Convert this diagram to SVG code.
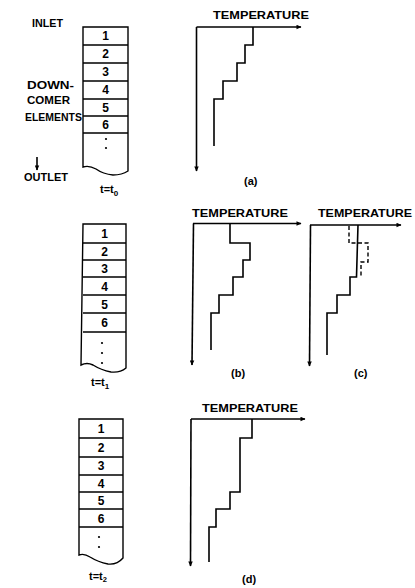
<svg xmlns="http://www.w3.org/2000/svg" width="415" height="588" viewBox="0 0 415 588">
<defs>
<style>
.t{font-family:"Liberation Sans",Arial,sans-serif;font-weight:bold;font-size:11px;fill:#000}
.n{font-family:"Liberation Sans",Arial,sans-serif;font-weight:bold;font-size:12px;fill:#000;text-anchor:middle}
.ln{fill:none;stroke:#000;stroke-width:1.6}
.bx{fill:none;stroke:#000;stroke-width:1.4}
.dash{fill:none;stroke:#000;stroke-width:1.4;stroke-dasharray:4,2.5}
</style>
<marker id="ah" viewBox="0 0 10 10" refX="9" refY="5" markerWidth="8" markerHeight="5" orient="auto" markerUnits="userSpaceOnUse">
<path d="M0,0.5 L10,5 L0,9.5 z" fill="#000"/>
</marker>
</defs>
<rect width="415" height="588" fill="#fff"/>

<g id="labels-a">
<text class="t" x="32" y="27" textLength="31" lengthAdjust="spacingAndGlyphs">INLET</text>
<text class="t" x="27" y="89" textLength="47" lengthAdjust="spacingAndGlyphs">DOWN-</text>
<text class="t" x="27" y="104" textLength="43" lengthAdjust="spacingAndGlyphs">COMER</text>
<text class="t" x="25" y="121" textLength="57" lengthAdjust="spacingAndGlyphs">ELEMENTS</text>
<line class="ln" x1="37" y1="157" x2="37" y2="170" marker-end="url(#ah)"/>
<text class="t" x="24" y="181" textLength="44" lengthAdjust="spacingAndGlyphs">OUTLET</text>
</g>

<g id="column-t0">
<path class="bx" d="M83,27 H128 V171 Q122,175 113,175 Q103,174 96,169 Q89,165 83,167 Z"/>
<path class="bx" d="M83,45 H128 M83,63 H128 M83,81 H128 M83,99 H128 M83,116 H128 M83,133 H128"/>
<text class="n" x="105.5" y="40">1</text>
<text class="n" x="105.5" y="58">2</text>
<text class="n" x="105.5" y="76">3</text>
<text class="n" x="105.5" y="94">4</text>
<text class="n" x="105.5" y="112">5</text>
<text class="n" x="105.5" y="129">6</text>
<circle cx="106" cy="139" r="1.1"/>
<circle cx="106" cy="148" r="1.1"/>
<text class="t" x="100" y="193">t=t<tspan font-size="8" dy="2.5">0</tspan></text>
</g>

<g id="column-t1">
<path class="bx" d="M83,224 H126 V368 Q120,373 111,372 Q101,370 93,365 Q87,362 81,365 Z"/>
<path class="bx" d="M83,243 H126 M83,260 H126 M83,277 H126 M83,295 H126 M83,313 H126 M83,332 H126"/>
<text class="n" x="104.5" y="238">1</text>
<text class="n" x="104.5" y="256">2</text>
<text class="n" x="104.5" y="273">3</text>
<text class="n" x="104.5" y="290.5">4</text>
<text class="n" x="104.5" y="308.5">5</text>
<text class="n" x="104.5" y="327">6</text>
<circle cx="102" cy="343" r="1.1"/>
<circle cx="102" cy="353" r="1.1"/>
<circle cx="102" cy="363" r="1.1"/>
<text class="t" x="91" y="386">t=t<tspan font-size="8" dy="2.5">1</tspan></text>
</g>

<g id="column-t2">
<path class="bx" d="M79,419 H123 V558 Q117,565 108,564 Q98,562 90,557 Q84,553 79,555 Z"/>
<path class="bx" d="M79,438 H123 M79,457 H123 M79,475 H123 M79,492 H123 M79,509 H123 M79,527 H123"/>
<text class="n" x="101" y="433">1</text>
<text class="n" x="101" y="452">2</text>
<text class="n" x="101" y="470">3</text>
<text class="n" x="101" y="488">4</text>
<text class="n" x="101" y="505">5</text>
<text class="n" x="101" y="522.5">6</text>
<circle cx="99" cy="537" r="1.1"/>
<circle cx="99" cy="547" r="1.1"/>
<text class="t" x="89" y="580">t=t<tspan font-size="7.5" dy="2">2</tspan></text>
</g>

<g id="connectors">
<line class="ln" x1="196.5" y1="27" x2="301" y2="27" marker-end="url(#ah)"/>
<line class="ln" x1="196.5" y1="27" x2="196.5" y2="171" marker-end="url(#ah)"/>
<line class="ln" x1="193" y1="223.5" x2="301" y2="223.5" marker-end="url(#ah)"/>
<line class="ln" x1="193.5" y1="223.5" x2="192" y2="365" marker-end="url(#ah)"/>
<line class="ln" x1="310" y1="225" x2="401" y2="225" marker-end="url(#ah)"/>
<line class="ln" x1="310.5" y1="225" x2="309.5" y2="366" marker-end="url(#ah)"/>
<line class="ln" x1="191" y1="419" x2="305" y2="419" marker-end="url(#ah)"/>
<line class="ln" x1="191" y1="419" x2="190.5" y2="566" marker-end="url(#ah)"/>
</g>

<g id="panel-a">
<text class="t" x="213" y="19" textLength="96" lengthAdjust="spacingAndGlyphs">TEMPERATURE</text>
<path class="ln" d="M253,27 V45 H245 V63 H237 V81 H223 V99 H214 V146"/>
<text class="t" x="244" y="185">(a)</text>
</g>

<g id="panel-b">
<text class="t" x="192" y="217" textLength="96" lengthAdjust="spacingAndGlyphs">TEMPERATURE</text>
<path class="ln" d="M230,223.5 V243 H250 V260 H243 V277 H233 V295 H219 V313 H211 V350"/>
<text class="t" x="231" y="377">(b)</text>
</g>

<g id="panel-c">
<text class="t" x="318" y="217" textLength="94" lengthAdjust="spacingAndGlyphs">TEMPERATURE</text>
<path class="ln" d="M358,225 L356.5,277 H350 V295 H337 V313 H327 V355"/>
<path class="dash" d="M349,226 V243 H368 V262 H361 V276"/>
<text class="t" x="354" y="377">(c)</text>
</g>

<g id="panel-d">
<text class="t" x="202" y="412" textLength="96" lengthAdjust="spacingAndGlyphs">TEMPERATURE</text>
<path class="ln" d="M252,419 V438 H240 V492 H230 V509 H216 V527 H209 V562"/>
<text class="t" x="242" y="583">(d)</text>
</g>
</svg>
